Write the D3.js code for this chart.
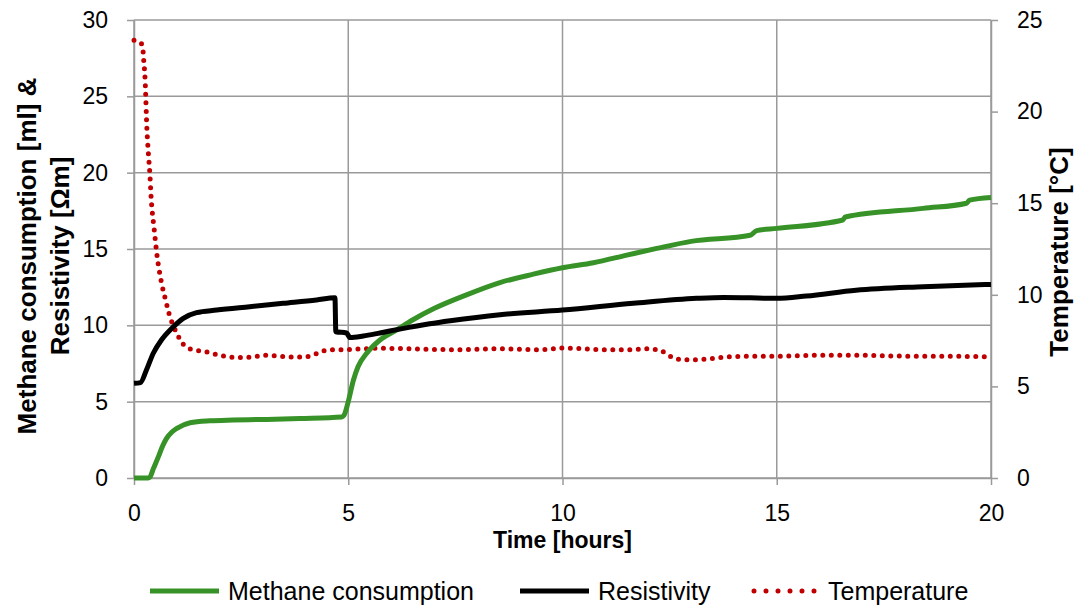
<!DOCTYPE html>
<html>
<head>
<meta charset="utf-8">
<script src="https://cdn.jsdelivr.net/npm/d3@7"></script>
<style>
  body { margin: 0; background: #fff; }
  svg text { font-family: "Liberation Sans", Arial, sans-serif; fill: #000; }
</style>
</head>
<body>
<svg id="chart" width="1074" height="606"></svg>
<script>
// Data
const methaneTime = [0, 0.33, 0.37, 0.45, 0.57, 0.66, 0.76, 0.88, 1.0, 1.31, 1.77, 2.31, 3.1, 3.87, 4.85, 4.9, 5.0, 5.12, 5.23, 5.43, 5.74, 6.13, 6.5, 7.0, 7.76, 8.54, 9.32, 10, 10.72, 11.5, 12.2, 13.0, 14.38, 14.53, 15, 16.54, 16.6, 18.42, 19.43, 19.5, 20];
const methaneVal  = [0, 0, 0.05, 0.6, 1.4, 2.05, 2.6, 3.0, 3.25, 3.62, 3.75, 3.8, 3.84, 3.9, 4.0, 4.1, 5.0, 6.4, 7.3, 8.17, 9.04, 9.7, 10.35, 11.1, 12.0, 12.8, 13.35, 13.77, 14.1, 14.6, 15.04, 15.5, 15.9, 16.2, 16.35, 16.9, 17.1, 17.66, 18.0, 18.2, 18.38];

const resistTime = [0, 0.15, 0.29, 0.45, 0.64, 0.88, 1.15, 1.46, 1.93, 2.7, 3.48, 4.26, 4.69, 4.71, 4.96, 5.04, 5.35, 5.74, 6.2, 6.9, 7.38, 8.54, 10, 11.65, 13.13, 13.76, 15, 15.69, 16.85, 18.42, 20];
const resistVal  = [6.2, 6.25, 7.07, 8.17, 9.04, 9.8, 10.46, 10.83, 11.0, 11.22, 11.44, 11.66, 11.8, 9.58, 9.5, 9.2, 9.3, 9.5, 9.75, 10.1, 10.3, 10.7, 11.0, 11.44, 11.77, 11.83, 11.77, 11.92, 12.3, 12.53, 12.68];

const tempTime = [0, 0.2, 0.22, 0.26, 0.3, 0.33, 0.37, 0.4, 0.47, 0.54, 0.63, 0.75, 0.82, 0.92, 1.02, 1.15, 1.31, 1.66, 2.08, 2.4, 2.78, 3.0, 3.36, 3.62, 3.9, 4.15, 4.36, 4.6, 4.8, 5.08, 5.7, 6.5, 7.5, 8.5, 9.5, 10.0, 10.5, 11.0, 11.5, 12.0, 12.3, 12.55, 12.8, 13.0, 13.4, 13.8, 14.5, 15.0, 16.0, 17.0, 18.0, 19.0, 20.0];
const tempVal  = [23.9, 23.65, 23.0, 21.7, 19.1, 17.9, 16.6, 15.3, 13.6, 12.1, 10.8, 9.6, 8.95, 8.3, 7.8, 7.3, 7.05, 6.9, 6.66, 6.57, 6.6, 6.7, 6.66, 6.6, 6.6, 6.68, 6.9, 7.0, 7.0, 7.02, 7.08, 7.05, 7.0, 7.05, 7.0, 7.1, 7.05, 7.0, 7.0, 7.05, 6.95, 6.6, 6.45, 6.45, 6.5, 6.6, 6.65, 6.65, 6.7, 6.7, 6.65, 6.65, 6.6];

const xTicks = [0, 5, 10, 15, 20];
const leftTicks = [0, 5, 10, 15, 20, 25, 30];
const rightTicks = [0, 5, 10, 15, 20, 25];

const svg = d3.select("#chart");
const width = 1074, height = 606;
const margin = { left: 134, right: 83, top: 20, bottom: 128 };
const x0 = margin.left, x1 = width - margin.right;
const y0 = height - margin.bottom, y1 = margin.top;

const x = d3.scaleLinear().domain([0, 20]).range([x0, x1]);
const yL = d3.scaleLinear().domain([0, 30]).range([y0, y1]);
const yR = d3.scaleLinear().domain([0, 25]).range([y0, y1]);

const gridColor = "#9a9a9a";

// horizontal gridlines
svg.append("g").selectAll("line")
  .data(leftTicks)
  .enter().append("line")
  .attr("x1", x0).attr("x2", x1)
  .attr("y1", d => yL(d)).attr("y2", d => yL(d))
  .attr("stroke", gridColor).attr("stroke-width", 1.5);

// vertical gridlines
svg.append("g").selectAll("line")
  .data(xTicks)
  .enter().append("line")
  .attr("x1", d => x(d)).attr("x2", d => x(d))
  .attr("y1", y1).attr("y2", y0)
  .attr("stroke", gridColor).attr("stroke-width", 1.5);

// axes
const styleAxis = g => {
  g.select(".domain").attr("stroke", gridColor).attr("stroke-width", 1.5);
  g.selectAll(".tick line").attr("stroke", gridColor).attr("stroke-width", 1.5);
  g.selectAll(".tick text").attr("font-size", 23).attr("fill", "#000");
};

svg.append("g")
  .attr("transform", `translate(${x0},0)`)
  .call(d3.axisLeft(yL).tickValues(leftTicks).tickSize(7).tickSizeOuter(0).tickPadding(19))
  .call(styleAxis);

svg.append("g")
  .attr("transform", `translate(${x1},0)`)
  .call(d3.axisRight(yR).tickValues(rightTicks).tickSize(7).tickSizeOuter(0).tickPadding(19))
  .call(styleAxis);

svg.append("g")
  .attr("transform", `translate(0,${y0})`)
  .call(d3.axisBottom(x).tickValues(xTicks).tickSize(7).tickSizeOuter(0).tickPadding(20))
  .call(styleAxis);

// series
const mkData = (ts, vs) => ts.map((t, i) => ({ t, v: vs[i] }));

const lineL = d3.line().x(d => x(d.t)).y(d => yL(d.v)).curve(d3.curveMonotoneX);
const lineR = d3.line().x(d => x(d.t)).y(d => yR(d.v)).curve(d3.curveMonotoneX);

svg.append("path")
  .datum(mkData(tempTime, tempVal))
  .attr("d", lineR)
  .attr("fill", "none")
  .attr("stroke", "#c00000")
  .attr("stroke-width", 5)
  .attr("stroke-linecap", "round")
  .attr("stroke-dasharray", "0 8.5");

svg.append("path")
  .datum(mkData(methaneTime, methaneVal))
  .attr("d", lineL)
  .attr("fill", "none")
  .attr("stroke", "#379328")
  .attr("stroke-width", 5)
  .attr("stroke-linejoin", "round");

svg.append("path")
  .datum(mkData(resistTime, resistVal))
  .attr("d", lineL)
  .attr("fill", "none")
  .attr("stroke", "#000")
  .attr("stroke-width", 5)
  .attr("stroke-linejoin", "round");

// axis titles
svg.append("text")
  .attr("x", (x0 + x1) / 2).attr("y", 548)
  .attr("text-anchor", "middle")
  .attr("font-size", 23).attr("font-weight", "bold")
  .text("Time [hours]");

const leftTitle = svg.append("text")
  .attr("transform", "translate(36,256) rotate(-90)")
  .attr("text-anchor", "middle")
  .attr("font-size", 26).attr("font-weight", "bold");
leftTitle.append("tspan").attr("x", 0).attr("dy", 0).text("Methane consumption [ml] &");
leftTitle.append("tspan").attr("x", 0).attr("dy", 33).text("Resistivity [Ωm]");

svg.append("text")
  .attr("transform", "translate(1068,252) rotate(-90)")
  .attr("text-anchor", "middle")
  .attr("font-size", 26).attr("font-weight", "bold")
  .text("Temperature [°C]");

// legend
const legendItems = [
  { label: "Methane consumption", color: "#379328", dash: null, x: 150 },
  { label: "Resistivity", color: "#000", dash: null, x: 520 },
  { label: "Temperature", color: "#c00000", dash: "0 12", x: 751 }
];
const ly = 591;
const lg = svg.append("g").selectAll("g").data(legendItems).enter().append("g");
lg.append("line")
  .attr("x1", d => d.x + (d.dash ? 3 : 0)).attr("x2", d => d.x + (d.dash ? 64 : 69))
  .attr("y1", ly).attr("y2", ly)
  .attr("stroke", d => d.color).attr("stroke-width", 5)
  .attr("stroke-linecap", d => d.dash ? "round" : "butt")
  .attr("stroke-dasharray", d => d.dash);
lg.append("text")
  .attr("x", d => d.x + (d.dash ? 77 : 78)).attr("y", ly + 9)
  .attr("font-size", 25)
  .text(d => d.label);
</script>
</body>
</html>
